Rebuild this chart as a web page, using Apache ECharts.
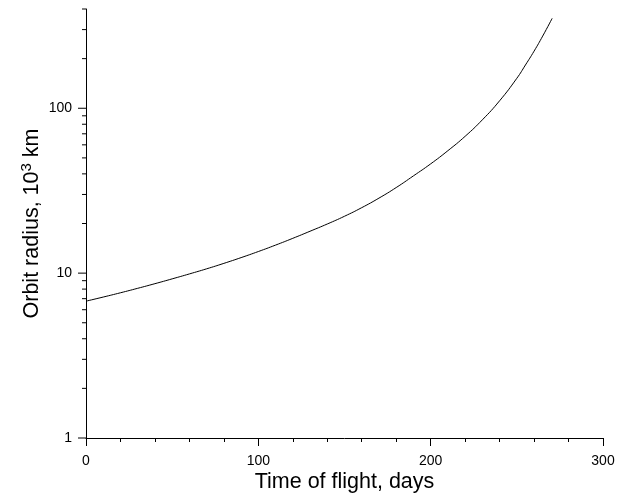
<!DOCTYPE html>
<html>
<head>
<meta charset="utf-8">
<script src="https://cdn.jsdelivr.net/npm/echarts@6/dist/echarts.min.js"></script>
<style>html,body{margin:0;padding:0;background:#fff}#c{width:630px;height:493px}</style>
</head>
<body>
<div id="c"></div>
<script>
// Time of flight (days) and orbit radius (10^3 km)
const flightDays = [0, 10, 20, 30, 40, 50, 60, 70, 80, 90, 100, 110, 120, 130, 140, 150, 160, 170, 180, 190, 200, 210, 220, 230, 240, 250, 255, 260, 265, 270.5];
const orbitRadius = [6.76, 7.16, 7.60, 8.09, 8.63, 9.23, 9.89, 10.62, 11.46, 12.42, 13.52, 14.79, 16.26, 17.95, 19.86, 22.13, 24.95, 28.51, 33.04, 38.9, 46.0, 55.3, 67.6, 85.1, 111, 152, 183, 222, 274, 351];
const yTickValues = [1, 2, 3, 4, 5, 6, 7, 8, 9, 10, 20, 30, 40, 50, 60, 70, 80, 90, 100, 200, 300, 400];
const yMajorLabels = [1, 10, 100];

const chart = echarts.init(document.getElementById('c'), null, {renderer: 'canvas'});
const font = 'Liberation Sans, Arial, sans-serif';
chart.setOption({
  animation: false,
  backgroundColor: '#fff',
  grid: {left: 86, right: 27, top: 9, bottom: 55, containLabel: false, outerBoundsMode: 'none'},
  xAxis: {
    type: 'value', min: 0, max: 300, interval: 100,
    name: 'Time of flight, days', nameLocation: 'middle', nameGap: 33, nameMoveOverlap: false,
    nameTextStyle: {fontFamily: font, fontSize: 21.5, color: '#000'},
    axisLine: {show: true, lineStyle: {color: '#000', width: 1}},
    axisTick: {show: true, length: 8, lineStyle: {color: '#000'}},
    minorTick: {show: true, splitNumber: 5, length: 4, lineStyle: {color: '#000'}},
    axisLabel: {fontFamily: font, fontSize: 14, color: '#000', margin: 16},
    splitLine: {show: false}
  },
  yAxis: {
    type: 'log', logBase: 10, min: 1, max: 400,
    name: '{a|Orbit radius, 10}{s|3}{a| km}', nameLocation: 'middle', nameGap: 41, nameRotate: 90, nameMoveOverlap: false,
    nameTextStyle: {
      color: '#000',
      rich: {
        a: {fontFamily: font, fontSize: 21.5, color: '#000', lineHeight: 26},
        s: {fontFamily: font, fontSize: 15, color: '#000', verticalAlign: 'top', lineHeight: 26, padding: [0, 0, 10, 0]}
      }
    },
    axisLine: {show: true, lineStyle: {color: '#000', width: 1}},
    axisTick: {show: false},
    axisLabel: {
      fontFamily: font, fontSize: 14, color: '#000', margin: 14,
      formatter: function (v) { return yMajorLabels.indexOf(Math.round(v)) >= 0 ? String(Math.round(v)) : ''; }
    },
    splitLine: {show: false}
  },
  series: [
    {
      type: 'line',
      data: flightDays.map((d, i) => [d, orbitRadius[i]]),
      smooth: 0.5, showSymbol: false, symbol: 'none',
      lineStyle: {color: '#000', width: 1},
      z: 3
    },
    {
      type: 'custom',
      clip: false,
      silent: true,
      data: yTickValues.map(v => [0, v]),
      renderItem: function (params, api) {
        const v = api.value(1);
        const p = api.coord([0, v]);
        const major = yMajorLabels.indexOf(v) >= 0;
        const len = major ? 8 : 4;
        return {
          type: 'line',
          shape: {x1: p[0] - len, y1: p[1], x2: p[0], y2: p[1]},
          style: {stroke: '#000', lineWidth: 1}
        };
      },
      z: 4
    }
  ]
});
</script>
</body>
</html>
